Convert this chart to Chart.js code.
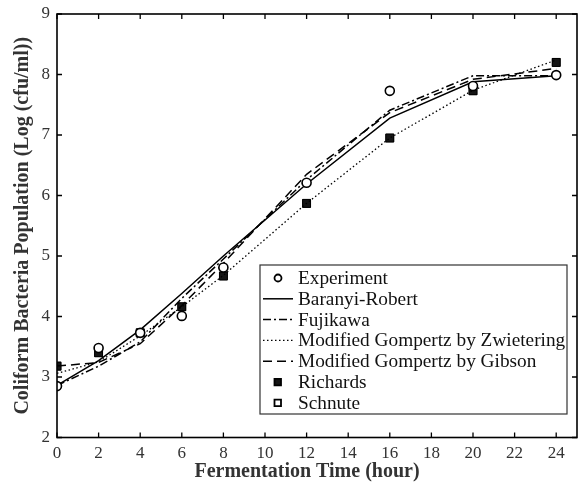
<!DOCTYPE html>
<html>
<head>
<meta charset="utf-8">
<script src="https://cdn.jsdelivr.net/npm/chart.js@4.4.0/dist/chart.umd.min.js"></script>
<style>
  html, body { margin: 0; padding: 0; background: #fff; }
</style>
</head>
<body>
<canvas id="growthChart" width="578" height="488"></canvas>
<script>
// fermentation time (hour)
const hours = [0, 2, 4, 6, 8, 12, 16, 20, 24];
// log (cfu/ml)
const experiment = [2.85, 3.48, 3.73, 4.01, 4.81, 6.21, 7.73, 7.81, 7.99];
const baranyi = [2.86, 3.27, 3.78, 4.38, 5.00, 6.19, 7.28, 7.88, 7.98];
const fujikawa = [2.86, 3.18, 3.58, 4.30, 4.95, 6.26, 7.41, 7.98, 7.98];
const zwietering = [3.06, 3.25, 3.68, 4.16, 4.68, 5.87, 6.95, 7.74, 8.24];
const gibson = [3.18, 3.24, 3.55, 4.18, 4.88, 6.35, 7.37, 7.92, 8.10];
const richards = [3.18, 3.40, 3.73, 4.16, 4.67, 5.87, 6.95, 7.73, 8.20];
const schnute = [3.18, 3.40, 3.73, 4.16, 4.67, 5.87, 6.95, 7.73, 8.20];

const xTicks = [0, 2, 4, 6, 8, 10, 12, 14, 16, 18, 20, 22, 24];
const yTicks = [2, 3, 4, 5, 6, 7, 8, 9];

const serif = "'Liberation Serif', 'Times New Roman', serif";

function pts(values) {
    return hours.map((h, i) => ({ x: h, y: values[i] }));
}

// lower index is painted last, so Richards (filled) sits over Schnute
const datasets = [
    { label: 'Experiment', data: pts(experiment), showLine: false, pointStyle: 'circle',
      pointRadius: 4.5, pointBorderWidth: 1.6, pointBorderColor: '#000', pointBackgroundColor: '#fff' },
    { label: 'Baranyi-Robert', data: pts(baranyi), borderColor: '#000', borderWidth: 1.5, pointRadius: 0 },
    { label: 'Fujikawa', data: pts(fujikawa), borderColor: '#000', borderWidth: 1.5, pointRadius: 0,
      borderDash: [8, 3, 2, 3] },
    { label: 'Modified Gompertz by Zwietering', data: pts(zwietering), borderColor: '#000', borderWidth: 1.3,
      pointRadius: 0, borderDash: [1.5, 2.5] },
    { label: 'Modified Gompertz by Gibson', data: pts(gibson), borderColor: '#000', borderWidth: 1.5,
      pointRadius: 0, borderDash: [9, 5] },
    { label: 'Richards', data: pts(richards), showLine: false, pointStyle: 'rect',
      pointRadius: 5.6, pointBorderWidth: 1, pointBorderColor: '#000', pointBackgroundColor: '#151515' },
    { label: 'Schnute', data: pts(schnute), showLine: false, pointStyle: 'rect',
      pointRadius: 5, pointBorderWidth: 1.5, pointBorderColor: '#000', pointBackgroundColor: '#fff' }
];

// box around the plot with inward ticks on all four sides, plus the x title
const framePlugin = {
    id: 'frame',
    afterDatasetsDraw(chart) {
        const { ctx, chartArea: a, scales: { x, y } } = chart;
        ctx.save();
        ctx.strokeStyle = '#000';
        ctx.lineWidth = 1.6;
        ctx.strokeRect(a.left, a.top, a.right - a.left, a.bottom - a.top);
        ctx.lineWidth = 1.3;
        ctx.beginPath();
        x.ticks.forEach(t => {
            const px = x.getPixelForValue(t.value);
            ctx.moveTo(px, a.bottom); ctx.lineTo(px, a.bottom - 5);
            ctx.moveTo(px, a.top); ctx.lineTo(px, a.top + 5);
        });
        y.ticks.forEach(t => {
            const py = y.getPixelForValue(t.value);
            ctx.moveTo(a.left, py); ctx.lineTo(a.left + 5, py);
            ctx.moveTo(a.right, py); ctx.lineTo(a.right - 5, py);
        });
        ctx.stroke();

        ctx.fillStyle = '#333';
        ctx.font = 'bold 20px ' + serif;
        ctx.textAlign = 'center';
        ctx.textBaseline = 'middle';
        ctx.fillText('Fermentation Time (hour)', 307, 472);
        ctx.restore();
    }
};

// legend box drawn inside the plot, bottom right
const legendPlugin = {
    id: 'boxLegend',
    afterDraw(chart) {
        const { ctx } = chart;
        const left = 260, top = 265, right = 567, bottom = 414;
        const rowH = 20.8, firstY = 278;
        ctx.save();
        ctx.fillStyle = '#fff';
        ctx.fillRect(left, top, right - left, bottom - top);
        ctx.strokeStyle = '#333';
        ctx.lineWidth = 1.2;
        ctx.strokeRect(left, top, right - left, bottom - top);
        ctx.font = '19.3px ' + serif;
        ctx.textBaseline = 'middle';
        chart.data.datasets.forEach((ds, row) => {
            const cy = firstY + row * rowH;
            if (ds.showLine === false) {
                ctx.fillStyle = ds.pointBackgroundColor;
                ctx.strokeStyle = '#000';
                ctx.lineWidth = 1.8;
                ctx.beginPath();
                if (ds.pointStyle === 'circle') {
                    ctx.arc(278, cy, 3.5, 0, Math.PI * 2);
                } else {
                    ctx.rect(274.5, cy - 3.2, 6.5, 6.5);
                }
                ctx.fill();
                ctx.stroke();
            } else {
                ctx.strokeStyle = '#000';
                ctx.lineWidth = ds.borderWidth;
                ctx.setLineDash(ds.borderDash || []);
                ctx.beginPath();
                ctx.moveTo(263, cy);
                ctx.lineTo(293, cy);
                ctx.stroke();
                ctx.setLineDash([]);
            }
            ctx.fillStyle = '#111';
            ctx.fillText(ds.label, 298, cy + 1);
        });
        ctx.restore();
    }
};

new Chart(document.getElementById('growthChart'), {
    type: 'line',
    data: { datasets: datasets },
    options: {
        responsive: false,
        animation: false,
        layout: { autoPadding: false, padding: { left: 0, top: 14, right: 1, bottom: 0 } },
        plugins: { legend: { display: false }, tooltip: { enabled: false } },
        scales: {
            x: {
                type: 'linear',
                min: 0,
                max: 25,
                afterBuildTicks: scale => { scale.ticks = xTicks.map(v => ({ value: v })); },
                afterFit: scale => {
                    scale.height = 50.5;
                    scale.paddingLeft = 0;
                    scale.paddingRight = 0;
                },
                grid: { display: false, drawTicks: false },
                border: { display: false },
                ticks: { padding: 6, color: '#333', font: { family: serif, size: 17 } },
                title: { display: false }
            },
            y: {
                min: 2,
                max: 9,
                afterBuildTicks: scale => { scale.ticks = yTicks.map(v => ({ value: v })); },
                afterFit: scale => {
                    scale.width = 57;
                    scale.paddingTop = 0;
                    scale.paddingBottom = 0;
                },
                grid: { display: false, drawTicks: false },
                border: { display: false },
                ticks: { padding: 7, color: '#333', font: { family: serif, size: 17 } },
                title: {
                    display: true,
                    text: 'Coliform Bacteria Population (Log (cfu/ml))',
                    color: '#333',
                    font: { family: serif, size: 20, weight: 'bold' },
                    padding: { top: 11, bottom: 0 }
                }
            }
        }
    },
    plugins: [framePlugin, legendPlugin]
});
</script>
</body>
</html>
